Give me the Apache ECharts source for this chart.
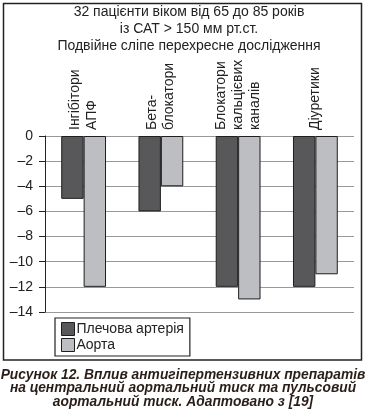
<!DOCTYPE html>
<html><head><meta charset="utf-8">
<script src="https://cdn.jsdelivr.net/npm/echarts@6/dist/echarts.min.js"></script>
<style>html,body{margin:0;padding:0;background:#fff}#c{width:366px;height:412px}</style>
</head><body><div id="c"></div>
<script>
var categories = ['Інгібітори\nАПФ', 'Бета-\nблокатори', 'Блокатори\nкальцієвих\nканалів', 'Діуретики'];
var brachial = [-5, -6, -12, -12];
var aorta = [-12, -4, -13, -11];
var seriesNames = ['Плечова артерія', 'Аорта'];
var titleLines = ['32 пацієнти віком від 65 до 85 років', 'із САТ > 150 мм рт.ст.', 'Подвійне сліпе перехресне дослідження'];
var captionLines = ['Рисунок 12. Вплив антигіпертензивних препаратів', 'на центральний аортальний тиск та пульсовий', 'аортальний тиск. Адаптовано з [19]'];

var font = 'Liberation Sans, Arial, sans-serif';
var captionGraphics = captionLines.map(function (t, i) {
  return {type: 'text', x: 183, y: 375 + i * 13.5, style: {text: t, font: 'italic bold 13.8px ' + font, fill: '#2a1e18', align: 'center', verticalAlign: 'middle'}};
});
var chart = echarts.init(document.getElementById('c'), null, {renderer: 'canvas'});
chart.setOption({
  animation: false,
  textStyle: {fontFamily: font},
  title: {
    text: titleLines.join('\n'),
    left: 189, top: 4, textAlign: 'center', padding: 0,
    textStyle: {fontSize: 14, fontWeight: 'normal', color: '#222', lineHeight: 17, fontFamily: font}
  },
  graphic: [
    {type: 'rect', shape: {x: 3.5, y: 3.5, width: 358, height: 356.5}, style: {fill: 'none', stroke: '#222', lineWidth: 1.5}, z: 100}
  ].concat(captionGraphics),
  legend: {
    orient: 'vertical', left: 55, top: 318, width: 138,
    padding: [4, 6, 4, 6], itemGap: 2,
    itemWidth: 13, itemHeight: 13, icon: 'rect',
    borderColor: '#222', borderWidth: 1.2,
    itemStyle: {borderColor: '#1e1e1e', borderWidth: 1},
    textStyle: {fontSize: 14, color: '#222', padding: [0, 0, 0, -3], fontFamily: font},
    data: seriesNames
  },
  grid: {left: 45, right: 12, top: 136, bottom: 100, containLabel: false},
  xAxis: {
    type: 'category', position: 'top', data: categories,
    axisLine: {show: false}, axisTick: {show: false},
    axisLabel: {rotate: 90, margin: 6, fontSize: 14, color: '#222', lineHeight: 17, interval: 0, fontFamily: font}
  },
  yAxis: {
    type: 'value', min: -14, max: 0, interval: 2,
    axisLine: {show: true, lineStyle: {color: '#222', width: 1}},
    axisTick: {show: true, length: 6, lineStyle: {color: '#222'}},
    axisLabel: {margin: 12, fontSize: 14, color: '#222', fontFamily: font,
      formatter: function (v) { return v < 0 ? '\u2013' + Math.abs(v) : String(v); }},
    splitLine: {show: true, lineStyle: {color: '#999', width: 1}}
  },
  series: [
    {name: seriesNames[0], type: 'bar', data: brachial, barGap: 0, barCategoryGap: '42%',
      itemStyle: {color: '#58585a', borderColor: '#1e1e1e', borderWidth: 1}},
    {name: seriesNames[1], type: 'bar', data: aorta, barGap: 0, barCategoryGap: '42%',
      itemStyle: {color: '#bdbec1', borderColor: '#1e1e1e', borderWidth: 1}}
  ]
});
</script></body></html>
